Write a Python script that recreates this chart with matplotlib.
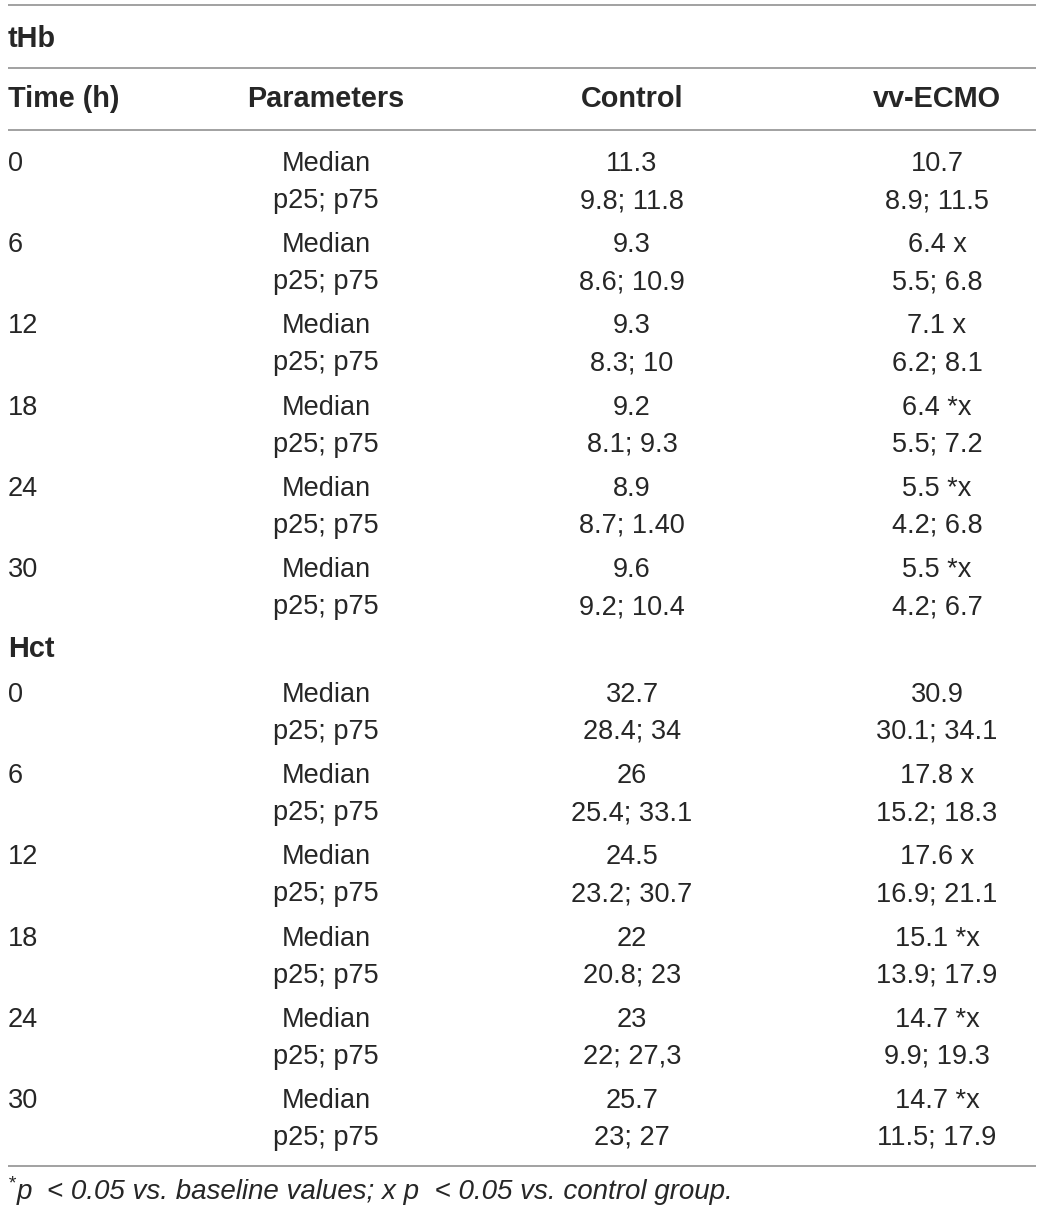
import matplotlib.pyplot as plt

times = ['0', '6', '12', '18', '24', '30']
params = ['Median', 'p25; p75']
columns = ['Time (h)', 'Parameters', 'Control', 'vv-ECMO']

thb_control_med = ['11.3', '9.3', '9.3', '9.2', '8.9', '9.6']
thb_control_iqr = ['9.8; 11.8', '8.6; 10.9', '8.3; 10', '8.1; 9.3', '8.7; 1.40', '9.2; 10.4']
thb_ecmo_med = ['10.7', '6.4 x', '7.1 x', '6.4 *x', '5.5 *x', '5.5 *x']
thb_ecmo_iqr = ['8.9; 11.5', '5.5; 6.8', '6.2; 8.1', '5.5; 7.2', '4.2; 6.8', '4.2; 6.7']

hct_control_med = ['32.7', '26', '24.5', '22', '23', '25.7']
hct_control_iqr = ['28.4; 34', '25.4; 33.1', '23.2; 30.7', '20.8; 23', '22; 27,3', '23; 27']
hct_ecmo_med = ['30.9', '17.8 x', '17.6 x', '15.1 *x', '14.7 *x', '14.7 *x']
hct_ecmo_iqr = ['30.1; 34.1', '15.2; 18.3', '16.9; 21.1', '13.9; 17.9', '9.9; 19.3', '11.5; 17.9']

footnote = 'p  < 0.05 vs. baseline values; x p  < 0.05 vs. control group.'

W, H = 1043, 1213
fig = plt.figure(figsize=(W / 100, H / 100), dpi=100)
ax = fig.add_axes([0, 0, 1, 1])
ax.set_xlim(0, W)
ax.set_ylim(H, 0)
ax.axis('off')

font = 'Liberation Sans'
fs = 19.5
fs_head = 20.8
txt = '#262626'
line_c = '#9a9a9a'

col_x = [8, 326, 632, 937]
x0, x1 = 8, 1036


def hline(y):
    ax.plot([x0, x1], [y, y], color=line_c, lw=1.3, solid_capstyle='butt')


def block(title, ty, y_start, ctrl_med, ctrl_iqr, ecmo_med, ecmo_iqr):
    ax.text(col_x[0], ty, title, fontsize=fs_head, fontweight='bold', family=font,
            color=txt, va='center', ha='left')
    step = 81.2
    for i, t in enumerate(times):
        y = y_start + i * step
        y2 = y + 37
        ax.text(col_x[0], y, t, fontsize=fs, family=font, color=txt, va='center', ha='left')
        ax.text(col_x[1], y, params[0], fontsize=fs, family=font, color=txt, va='center', ha='center')
        ax.text(col_x[1], y2, params[1], fontsize=fs, family=font, color=txt, va='center', ha='center')
        ax.text(col_x[2], y, ctrl_med[i], fontsize=fs, family=font, color=txt, va='center', ha='center')
        ax.text(col_x[2], y2, ctrl_iqr[i], fontsize=fs, family=font, color=txt, va='center', ha='center')
        ax.text(col_x[3], y, ecmo_med[i], fontsize=fs, family=font, color=txt, va='center', ha='center')
        ax.text(col_x[3], y2, ecmo_iqr[i], fontsize=fs, family=font, color=txt, va='center', ha='center')


hline(5)
hline(68)
hline(130)
hline(1166)

# header
for j, c in enumerate(columns):
    ax.text(col_x[j], 99, c, fontsize=fs_head, fontweight='bold', family=font, color=txt,
            va='center', ha='left' if j == 0 else 'center')

block('tHb', 39, 164, thb_control_med, thb_control_iqr, thb_ecmo_med, thb_ecmo_iqr)
block('Hct', 649, 695, hct_control_med, hct_control_iqr, hct_ecmo_med, hct_ecmo_iqr)

# footnote with superscript star
ax.text(8, 1184, '*', fontsize=14, family=font, style='italic', color=txt,
        va='center', ha='left')
ax.text(17, 1192, footnote, fontsize=20, family=font, style='italic',
        color=txt, va='center', ha='left')

fig.savefig('out.png', dpi=100)
